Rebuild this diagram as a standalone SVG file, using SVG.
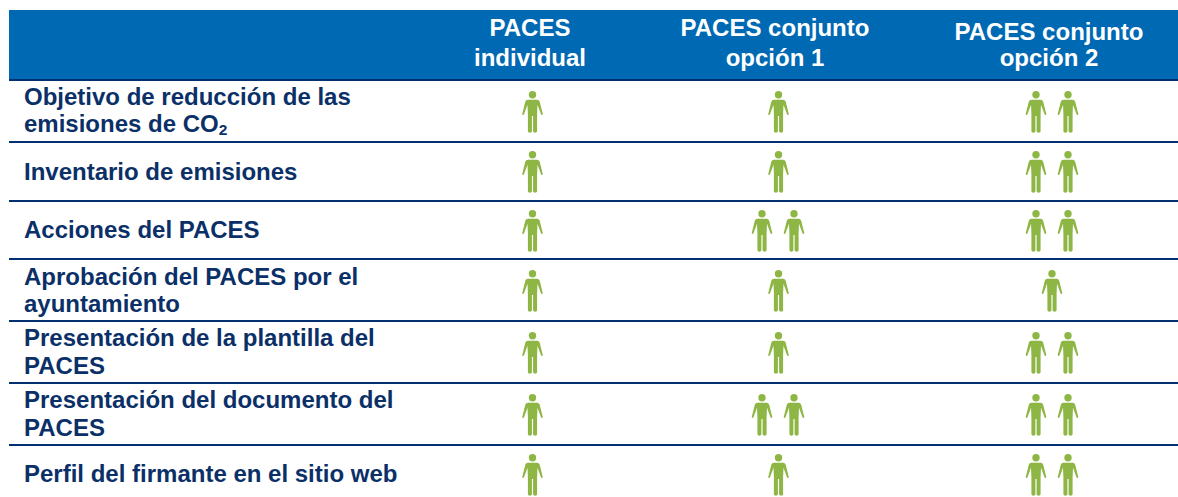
<svg xmlns="http://www.w3.org/2000/svg" width="1178" height="497" viewBox="0 0 1178 497">
<style>
text{font-family:"Liberation Sans",Arial,sans-serif;font-weight:700;font-size:24px}
.h{fill:#fff;text-anchor:middle}
.r{fill:#0b3068}
.l{fill:#00306f}
.p{fill:#8db645}
</style>
<defs>
<g id="person">
<circle class="p" cx="0" cy="3.8" r="3.7"/>
<path class="p" d="M-4.500 8.800H4.500C6 8.800 6.700 9.600 7.200 10.800L10.200 22.700C10.500 24 9 24.500 8.500 23.300L5 13.800L4.600 23V40C4.600 42.200 .6 42.200 .6 40V25H-.6V40C-.6 42.200 -4.600 42.200 -4.600 40V23L-5 13.800L-8.500 23.300C-9 24.500 -10.500 24 -10.200 22.700L-7.200 10.800C-6.700 9.600 -6 8.800 -4.500 8.800Z"/>
</g>
</defs>
<rect id="header" x="9" y="10" width="1169" height="70" fill="#0069b3"/>
<g id="rules" class="l">
<rect x="9" y="79" width="1169" height="2"/>
<rect x="9" y="141" width="1169" height="2"/>
<rect x="9" y="200" width="1169" height="2"/>
<rect x="9" y="258" width="1169" height="2"/>
<rect x="9" y="320" width="1169" height="2"/>
<rect x="9" y="382" width="1169" height="2"/>
<rect x="9" y="444" width="1169" height="2"/>
</g>
<g id="headers">
<text class="h" x="530" y="36">PACES</text><text class="h" x="530" y="66">individual</text>
<text class="h" x="775" y="36">PACES conjunto</text><text class="h" x="775" y="66">opción 1</text>
<text class="h" x="1049" y="40">PACES conjunto</text><text class="h" x="1049" y="66">opción 2</text>
</g>
<g id="labels">
<text class="r" x="24" y="105">Objetivo de reducción de las</text>
<text class="r" x="24" y="132">emisiones de CO<tspan font-size="15.500" dy="3">2</tspan></text>
<text class="r" x="24" y="180">Inventario de emisiones</text>
<text class="r" x="24" y="238">Acciones del PACES</text>
<text class="r" x="24" y="285">Aprobación del PACES por el</text>
<text class="r" x="24" y="312">ayuntamiento</text>
<text class="r" x="24" y="346">Presentación de la plantilla del</text>
<text class="r" x="24" y="374">PACES</text>
<text class="r" x="24" y="408">Presentación del documento del</text>
<text class="r" x="24" y="436">PACES</text>
<text class="r" x="24" y="482">Perfil del firmante en el sitio web</text>
</g>
<g id="row1"><use href="#person" x="532.500" y="91"/><use href="#person" x="778.500" y="91"/><use href="#person" x="1036" y="91"/><use href="#person" x="1068" y="91"/></g>
<g id="row2"><use href="#person" x="532.500" y="151"/><use href="#person" x="778.500" y="151"/><use href="#person" x="1036" y="151"/><use href="#person" x="1068" y="151"/></g>
<g id="row3"><use href="#person" x="532.500" y="210"/><use href="#person" x="762" y="210"/><use href="#person" x="794" y="210"/><use href="#person" x="1036" y="210"/><use href="#person" x="1068" y="210"/></g>
<g id="row4"><use href="#person" x="532.500" y="270"/><use href="#person" x="778.500" y="270"/><use href="#person" x="1052" y="270"/></g>
<g id="row5"><use href="#person" x="532.500" y="332"/><use href="#person" x="778.500" y="332"/><use href="#person" x="1036" y="332"/><use href="#person" x="1068" y="332"/></g>
<g id="row6"><use href="#person" x="532.500" y="394"/><use href="#person" x="762" y="394"/><use href="#person" x="794" y="394"/><use href="#person" x="1036" y="394"/><use href="#person" x="1068" y="394"/></g>
<g id="row7"><use href="#person" x="532.500" y="454"/><use href="#person" x="778.500" y="454"/><use href="#person" x="1036" y="454"/><use href="#person" x="1068" y="454"/></g>
</svg>
